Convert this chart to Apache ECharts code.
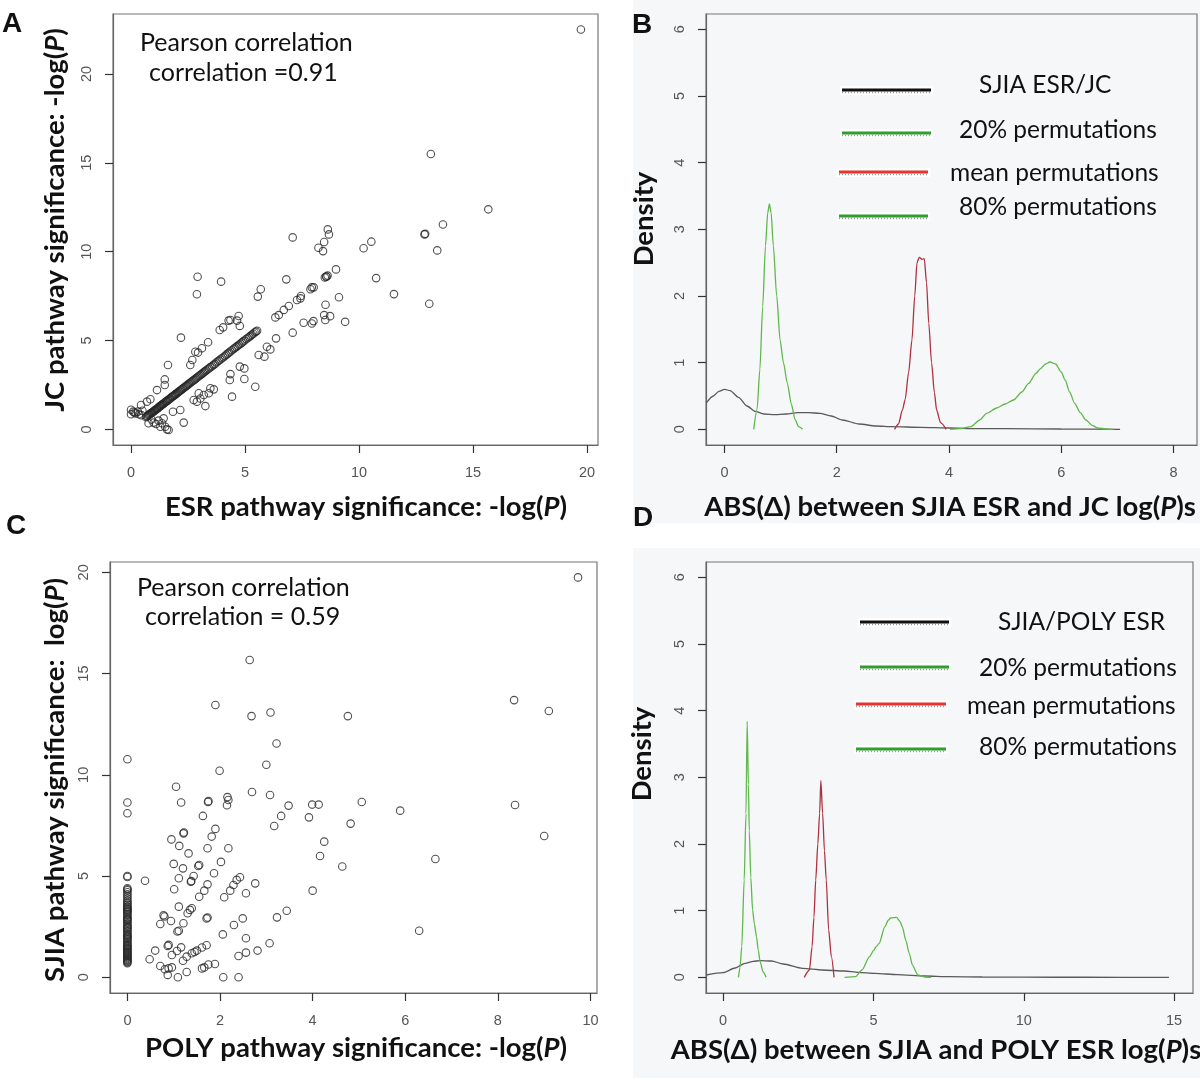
<!DOCTYPE html>
<html><head><meta charset="utf-8">
<script src="https://cdn.jsdelivr.net/npm/echarts@6/dist/echarts.min.js"></script>
<style>html,body{margin:0;padding:0;background:#fff}#c{width:1200px;height:1085px}</style>
</head><body><div id="c"></div>
<script>
// ---------- Panel A: ESR vs JC (-log P) ----------
const A_ticksX = [0, 5, 10, 15, 20];
const A_ticksY = [0, 5, 10, 15, 20];
const A_points = [
 [0,1.1],[0,0.85],[0.1,1.0],[0.2,0.9],[0.3,1.0],[0.35,0.85],[0.45,0.8],[0.5,1.05],[0.15,0.95],
 [0.66,0.68],[0.69,0.72],[0.72,0.74],[0.75,0.79],[0.78,0.82],[0.81,0.84],[0.84,0.86],[0.87,0.9],[0.9,0.93],[0.93,0.95],
 [0.96,0.98],[0.99,1.02],[1.02,1.05],[1.05,1.07],[1.08,1.1],[1.11,1.13],[1.14,1.16],[1.17,1.19],[1.2,1.22],[1.23,1.26],
 [1.26,1.3],[1.29,1.31],[1.32,1.34],[1.35,1.38],[1.38,1.41],[1.41,1.43],[1.45,1.47],[1.48,1.51],[1.52,1.55],[1.55,1.57],
 [1.58,1.6],[1.62,1.64],[1.65,1.68],[1.69,1.71],[1.72,1.74],[1.76,1.79],[1.8,1.83],[1.84,1.86],[1.88,1.9],[1.92,1.94],
 [1.95,1.98],[1.99,2.01],[2.03,2.05],[2.07,2.09],[2.1,2.13],[2.14,2.16],[2.18,2.2],[2.22,2.24],[2.26,2.28],[2.3,2.33],
 [2.35,2.37],[2.4,2.42],[2.44,2.46],[2.48,2.5],[2.52,2.55],[2.56,2.58],[2.6,2.62],[2.65,2.67],[2.7,2.72],[2.75,2.77],
 [2.8,2.81],[2.85,2.87],[2.9,2.92],[2.95,2.97],[3.0,3.02],[3.05,3.07],[3.1,3.11],[3.15,3.17],[3.2,3.22],[3.25,3.27],
 [3.3,3.32],[3.36,3.38],[3.42,3.43],[3.48,3.5],[3.55,3.55],[3.62,3.63],[3.68,3.68],[3.74,3.76],[3.8,3.82],[3.86,3.87],
 [3.92,3.93],[3.98,4.0],[4.05,4.06],[4.12,4.13],[4.18,4.2],[4.24,4.26],[4.3,4.32],[4.36,4.38],[4.42,4.45],[4.5,4.52],
 [4.55,4.58],[4.62,4.64],[4.68,4.7],[4.74,4.76],[4.8,4.82],[4.86,4.88],[4.92,4.95],[4.98,5.0],[5.05,5.08],[5.12,5.14],
 [5.18,5.2],[5.24,5.26],[5.3,5.32],[5.36,5.38],[5.42,5.45],[5.48,5.5],[5.53,5.55],
 [6.33,6.3],[6.48,6.43],[6.7,6.72],[6.92,6.94],[7.28,7.28],[7.43,7.37],[7.87,7.88],[8.01,7.99],[8.5,8.55],[8.57,8.6],[8.62,8.65],
 [0.44,1.37],[0.70,1.56],[0.85,1.69],[1.14,2.21],[1.48,2.5],[1.48,2.81],[1.62,3.62],[2.19,5.16],[2.6,3.62],[2.69,3.9],
 [2.82,4.37],[2.94,4.32],[3.11,4.56],[3.38,4.9],[2.92,8.59],[2.89,7.6],[3.95,8.31],[3.89,5.59],[4.04,5.74],[4.28,6.12],
 [4.36,6.15],[4.65,6.12],[4.72,6.38],[4.77,5.82],[5.56,7.47],[5.69,7.88],[6.81,8.44],[7.09,10.8],
 [0.77,0.34],[0.99,0.38],[1.21,0.49],[1.43,0.62],[1.36,0.34],[1.5,0.15],[1.58,0.0],[1.65,-0.04],[1.29,0.15],[1.1,0.3],
 [0.9,0.55],[1.84,0.99],[2.16,1.09],[2.31,0.38],[2.75,1.65],[2.89,1.56],[3.04,1.74],[2.97,2.03],[3.19,1.93],[3.26,1.31],
 [3.48,2.31],[3.63,2.25],[3.41,2.03],[4.36,3.11],[4.33,2.78],[4.43,1.84],[4.77,3.53],[4.97,3.43],[4.97,2.83],[5.45,2.4],
 [5.6,4.18],[5.85,4.09],[5.96,4.65],[6.11,4.5],[6.36,5.12],[7.09,5.44],
 [7.45,7.5],[7.93,7.99],[9.12,7.43],[8.53,7.01],[8.47,6.43],[8.73,6.37],[8.52,6.15],[7.57,6.0],[8.0,6.09],[7.93,5.96],
 [9.39,6.05],[8.56,8.59],[8.99,9.0],[10.75,8.51],[11.53,7.61],[13.08,7.07],[8.22,10.22],[8.42,10.03],[8.47,10.54],
 [8.63,11.25],[8.68,10.97],[10.2,10.19],[10.54,10.56],[12.87,10.97],[12.9,11.0],[13.43,10.07],[13.68,11.53],
 [15.67,12.38],[13.15,15.49],[19.73,22.5]
];

// ---------- Panel B: densities of ABS(delta) ESR vs JC ----------
const B_ticksX = [0, 2, 4, 6, 8];
const B_ticksY = [0, 1, 2, 3, 4, 5, 6];
const B_observed = [[-0.32,0.40],[-0.2,0.5],[-0.1,0.57],[0,0.6],[0.1,0.58],[0.25,0.48],[0.4,0.35],[0.55,0.27],[0.7,0.23],
 [0.9,0.22],[1.1,0.23],[1.3,0.25],[1.5,0.25],[1.7,0.24],[1.9,0.2],[2.1,0.14],[2.4,0.08],[2.7,0.05],[3.0,0.04],[3.5,0.03],
 [4.0,0.02],[4.5,0.01],[5.0,0.01],[6.0,0.005],[7.05,0.0]];
const B_perm20 = [[0.52,0],[0.58,0.3],[0.63,0.9],[0.68,1.84],[0.73,2.75],[0.77,3.25],[0.8,3.38],[0.83,3.25],[0.87,2.75],
 [0.93,2.0],[0.99,1.34],[1.05,1.0],[1.12,0.69],[1.19,0.38],[1.26,0.14],[1.32,0.04],[1.39,0]];
const B_permMean = [[3.03,0],[3.1,0.08],[3.17,0.29],[3.22,0.45],[3.28,0.85],[3.34,1.34],[3.39,2.0],[3.43,2.5],[3.47,2.58],
 [3.52,2.55],[3.56,2.56],[3.6,2.2],[3.64,1.59],[3.69,1.0],[3.74,0.55],[3.78,0.29],[3.85,0.1],[3.95,0]];
const B_perm80 = [[4.02,0],[4.2,0.01],[4.39,0.04],[4.55,0.14],[4.67,0.24],[4.85,0.32],[5.0,0.38],[5.15,0.44],[5.3,0.56],
 [5.42,0.69],[5.55,0.84],[5.63,0.91],[5.72,0.98],[5.8,1.01],[5.9,0.98],[6.0,0.86],[6.07,0.74],[6.15,0.56],[6.24,0.39],
 [6.34,0.25],[6.44,0.14],[6.55,0.06],[6.65,0.02],[6.8,0.005],[6.92,0]];

// ---------- Panel C: POLY vs SJIA ----------
const C_ticksX = [0, 2, 4, 6, 8, 10];
const C_ticksY = [0, 5, 10, 15, 20];
const C_points = [
 [0,10.77],[0,8.63],[0,8.1],[0,5.0],[0,4.95],[0,4.4],[0,4.35],[0,4.3],[0,4.2],[0,4.1],[0,4.0],[0,3.9],[0,3.8],[0,3.72],
 [0,3.65],[0,3.57],[0,3.5],[0,3.45],[0,3.4],[0,3.35],[0,3.3],[0,3.25],[0,3.2],[0,3.12],[0,3.05],[0,2.97],[0,2.9],[0,2.85],
 [0,2.8],[0,2.72],[0,2.65],[0,2.57],[0,2.5],[0,2.45],[0,2.4],[0,2.32],[0,2.25],[0,2.17],[0,2.1],[0,2.05],[0,2.0],[0,1.95],
 [0,1.9],[0,1.82],[0,1.75],[0,1.67],[0,1.6],[0,1.55],[0,1.5],[0,1.45],[0,1.4],[0,1.35],[0,1.3],[0,1.25],[0,1.2],[0,1.15],
 [0,1.1],[0,1.05],[0,1.0],[0,0.95],[0,0.9],[0,0.85],[0,0.8],[0,0.75],[0,0.7],
 [0.38,4.77],[0.48,0.89],[0.6,1.32],[0.71,0.56],[0.71,2.63],[0.78,3.06],[0.8,3.0],[0.94,2.78],[0.81,0.4],[0.89,0.44],
 [0.96,0.49],[0.87,0.12],[0.89,1.6],[0.87,1.55],[0.96,1.1],[1.07,1.3],[1.16,1.48],[1.08,2.26],[1.11,2.3],[1.11,3.49],
 [1.01,4.35],[1.11,4.89],[1.0,5.6],[1.2,5.38],[1.12,6.49],[0.95,6.81],[1.21,7.11],[1.22,7.15],[1.05,9.41],[1.16,8.63],
 [1.09,0],[1.21,2.67],[1.3,3.16],[1.35,3.33],[1.39,3.41],[1.28,0.26],[1.2,0.82],[1.28,1.02],[1.39,1.19],[1.5,1.32],
 [1.61,1.47],[1.71,1.58],[1.45,1.25],[1.61,0.44],[1.66,0.49],[1.75,0.63],[1.89,0.66],[1.32,6.12],[1.53,5.5],[1.55,5.55],
 [1.37,4.72],[1.38,4.75],[1.43,5.0],[1.55,3.98],[1.66,4.28],[1.73,4.59],[1.71,2.91],[1.73,2.95],[1.73,6.37],[1.82,6.95],
 [1.9,7.33],[1.63,7.97],[1.74,8.66],[1.75,8.7],[1.99,10.2],[1.87,5.14],[2.02,5.7],[2.18,6.37],[2.18,8.76],[2.15,8.5],
 [2.16,8.9],[2.06,2.12],[2.07,0],[2.09,3.95],[2.22,4.28],[2.29,4.56],[2.36,4.81],[2.43,4.94],[2.3,2.58],[2.4,1.05],
 [2.4,0],[2.49,2.91],[2.56,4.15],[2.56,1.93],[2.56,1.22],[2.76,4.64],[2.81,1.32],[2.69,9.15],[3.0,10.5],[3.08,9.0],
 [3.07,1.68],[3.17,7.47],[3.23,2.96],[3.32,7.97],[3.44,3.29],[3.48,8.48],[3.92,7.9],[3.99,8.53],[4.13,8.53],[4.0,4.28],
 [4.16,5.99],[4.25,6.7],[4.64,5.47],[4.82,7.59],[5.06,8.66],[5.89,8.23],[6.3,2.3],[6.65,5.84],[9.0,6.98],[8.37,8.51],
 [8.35,13.69],[9.1,13.15],[9.73,19.75],[4.76,12.9],[3.09,13.08],[2.68,12.9],[1.9,13.45],[2.64,15.67],[3.22,11.55]
];

// ---------- Panel D: densities of ABS(delta) SJIA vs POLY ----------
const D_ticksX = [0, 5, 10, 15];
const D_ticksY = [0, 1, 2, 3, 4, 5, 6];
const D_observed = [[-0.57,0.035],[0,0.07],[0.4,0.14],[0.73,0.21],[1.0,0.24],[1.23,0.25],[1.61,0.245],[2.0,0.2],
 [2.64,0.135],[3.3,0.11],[4.04,0.095],[4.5,0.075],[5.06,0.06],[5.8,0.04],[6.71,0.02],[7.5,0.01],[8.62,0.005],[10,0.002],
 [12,0.001],[14.83,0]];
const D_perm20 = [[0.51,0],[0.56,0.15],[0.62,0.46],[0.7,1.46],[0.76,2.46],[0.8,3.84],[0.84,2.9],[0.87,2.2],[0.92,1.5],
 [0.98,1.01],[1.04,0.8],[1.11,0.61],[1.17,0.4],[1.23,0.235],[1.33,0.08],[1.43,0]];
const D_permMean = [[2.7,0],[2.87,0.11],[2.96,0.46],[3.02,0.9],[3.08,1.46],[3.15,2.0],[3.21,2.46],[3.25,2.95],[3.31,2.46],
 [3.37,1.9],[3.43,1.46],[3.51,0.71],[3.6,0.31],[3.69,0]];
const D_perm80 = [[4.04,0],[4.4,0.01],[4.62,0.11],[4.87,0.31],[5.0,0.4],[5.09,0.46],[5.19,0.51],[5.38,0.76],[5.5,0.86],
 [5.57,0.89],[5.77,0.9],[5.88,0.84],[5.96,0.76],[6.08,0.55],[6.19,0.36],[6.3,0.18],[6.48,0.035],[6.7,0.005],[6.92,0]];

const legendB = ['SJIA ESR/JC', '20% permutations', 'mean permutations', '80% permutations'];
const legendD = ['SJIA/POLY ESR', '20% permutations', 'mean permutations', '80% permutations'];

// ---------- build ----------
const chart = echarts.init(document.getElementById('c'), null, {renderer: 'canvas'});
const TICKFONT = {fontSize: 14.5, color: '#555', fontFamily: 'Liberation Sans'};
const grids = [
  {left: 113, top: 14, width: 485, height: 431},
  {left: 706, top: 14, width: 491, height: 431},
  {left: 110, top: 562, width: 487, height: 431},
  {left: 706, top: 562, width: 487, height: 431}
].map(g => Object.assign({show: true, borderColor: '#777', borderWidth: 1.2, backgroundColor: 'transparent', containLabel: false}, g));

function xAx(i, min, max, ticks) {
  return {gridIndex: i, type: 'value', min, max, splitLine: {show: false},
    axisLine: {show: true, onZero: false, lineStyle: {color: '#666', width: 1.2}},
    axisTick: {show: true, length: 8, customValues: ticks, lineStyle: {color: '#333', width: 1.2}},
    axisLabel: Object.assign({customValues: ticks, margin: 20}, TICKFONT)};
}
function yAx(i, min, max, ticks) {
  return {gridIndex: i, type: 'value', min, max, splitLine: {show: false},
    axisLine: {show: true, onZero: false, lineStyle: {color: '#666', width: 1.2}},
    axisTick: {show: true, length: 8, customValues: ticks, lineStyle: {color: '#333', width: 1.2}},
    axisLabel: Object.assign({customValues: ticks, margin: 19, rotate: 90}, TICKFONT)};
}
const scatterStyle = {color: 'rgba(0,0,0,0)', borderColor: '#262626', borderWidth: 1.1};
function dens(name, i, data, color) {
  return {name, type: 'line', xAxisIndex: i, yAxisIndex: i, data, showSymbol: false, smooth: 0.25,
    smoothMonotone: 'x', lineStyle: {color, width: 1.3}, z: 3};
}
const COL_OBS = '#5a5a5a', COL_G = '#5fb84a', COL_R = '#b03040';

function T(x, y, text, o) {
  o = o || {};
  return {type: 'text', x, y, rotation: o.rot || 0, z: 50,
    style: {text, fill: o.fill || '#111', fontSize: o.size || 24.5, fontWeight: o.weight || 'normal',
      fontFamily: o.family || 'Lato', align: o.align || 'left', verticalAlign: 'middle',
      rich: o.rich}};
}
function boldTitle(x, y, text, rot) {
  const base = {fontSize: 27.5, fontWeight: 'bold', fontFamily: 'Lato', fill: '#111'};
  return T(x, y, text, {rot, weight: 'bold', size: 27.5, align: 'center',
    rich: {i: Object.assign({fontStyle: 'italic'}, base), b: base}});
}
function legendItems(lx1, lx2, ly, tx, ty, labels, colors) {
  const out = [];
  labels.forEach((lab, k) => {
    out.push({type: 'rect', z: 40, shape: {x: lx1[k] - 2, y: ly[k] - 4, width: lx2[k] - lx1[k] + 4, height: 9}, style: {fill: '#ffffff'}});
    out.push({type: 'line', z: 41, shape: {x1: lx1[k], y1: ly[k] + 2.5, x2: lx2[k], y2: ly[k] + 2.5}, style: {stroke: '#999', lineWidth: 1.5, lineDash: [1, 2]}});
    out.push({type: 'line', z: 42, shape: {x1: lx1[k], y1: ly[k], x2: lx2[k], y2: ly[k]}, style: {stroke: colors[k], lineWidth: 3}});
    out.push(T(tx[k], ty[k], lab, {size: 24.5}));
  });
  return out;
}
const legCols = ['#111', '#2e9e2e', '#e8322e', '#2e9e2e'];

const graphic = [
  {type: 'rect', z: -10, shape: {x: 633, y: 0, width: 567, height: 523}, style: {fill: '#f5f7f8'}},
  {type: 'rect', z: -10, shape: {x: 633, y: 548, width: 567, height: 530}, style: {fill: '#f5f7f8'}},
  T(12, 24, 'A', {size: 28, weight: 'bold', align: 'center', family: 'Liberation Sans'}),
  T(642, 25, 'B', {size: 28, weight: 'bold', align: 'center', family: 'Liberation Sans'}),
  T(16, 526, 'C', {size: 28, weight: 'bold', align: 'center', family: 'Liberation Sans'}),
  T(643, 518, 'D', {size: 28, weight: 'bold', align: 'center', family: 'Liberation Sans'}),
  T(140, 43, 'Pearson correlation', {size: 25}),
  T(149, 73, 'correlation =0.91', {size: 25}),
  T(137, 588, 'Pearson correlation', {size: 25}),
  T(145, 617, 'correlation = 0.59', {size: 25}),
  boldTitle(366, 507, 'ESR pathway significance: -log({i|P})', 0),
  boldTitle(950, 507, 'ABS({b|\u0394}) between SJIA ESR and JC log({i|P})s', 0),
  boldTitle(356, 1048, 'POLY pathway significance: -log({i|P})', 0),
  boldTitle(936, 1050, 'ABS({b|\u0394}) between SJIA and POLY ESR log({i|P})s', 0),
  boldTitle(55, 220, 'JC pathway significance: -log({i|P})', Math.PI / 2),
  boldTitle(55, 780, 'SJIA pathway significance:  log({i|P})', Math.PI / 2),
  boldTitle(644, 219, 'Density', Math.PI / 2),
  boldTitle(642, 754, 'Density', Math.PI / 2)
].concat(
  legendItems([842, 842, 839, 839], [931, 931, 928, 928], [90, 133, 172, 216], [979, 959, 950, 959], [85, 130, 173, 207], legendB, legCols),
  legendItems([860, 860, 856, 856], [949, 949, 946, 946], [622, 667, 704, 749], [998, 979, 967, 979], [622, 668, 706, 747], legendD, legCols)
);

chart.setOption({
  animation: false,
  backgroundColor: '#ffffff',
  grid: grids,
  xAxis: [xAx(0, -0.79, 20.48, A_ticksX), xAx(1, -0.33, 8.42, B_ticksX), xAx(2, -0.376, 10.14, C_ticksX), xAx(3, -0.57, 15.63, D_ticksX)],
  yAxis: [yAx(0, -0.88, 23.37, A_ticksY), yAx(1, -0.235, 6.23, B_ticksY), yAx(2, -0.775, 20.51, C_ticksY), yAx(3, -0.235, 6.23, D_ticksY)],
  series: [
    {name: 'ESR vs JC', type: 'scatter', xAxisIndex: 0, yAxisIndex: 0, data: A_points, symbol: 'circle', symbolSize: 7.5, itemStyle: scatterStyle},
    dens(legendB[0], 1, B_observed, COL_OBS),
    dens(legendB[1], 1, B_perm20, COL_G),
    dens(legendB[2], 1, B_permMean, COL_R),
    dens(legendB[3], 1, B_perm80, COL_G),
    {name: 'POLY vs SJIA', type: 'scatter', xAxisIndex: 2, yAxisIndex: 2, data: C_points, symbol: 'circle', symbolSize: 7.5, itemStyle: scatterStyle},
    dens(legendD[0], 3, D_observed, COL_OBS),
    dens(legendD[1], 3, D_perm20, COL_G),
    dens(legendD[2], 3, D_permMean, COL_R),
    dens(legendD[3], 3, D_perm80, COL_G)
  ],
  graphic: graphic
});
</script>
</body></html>
